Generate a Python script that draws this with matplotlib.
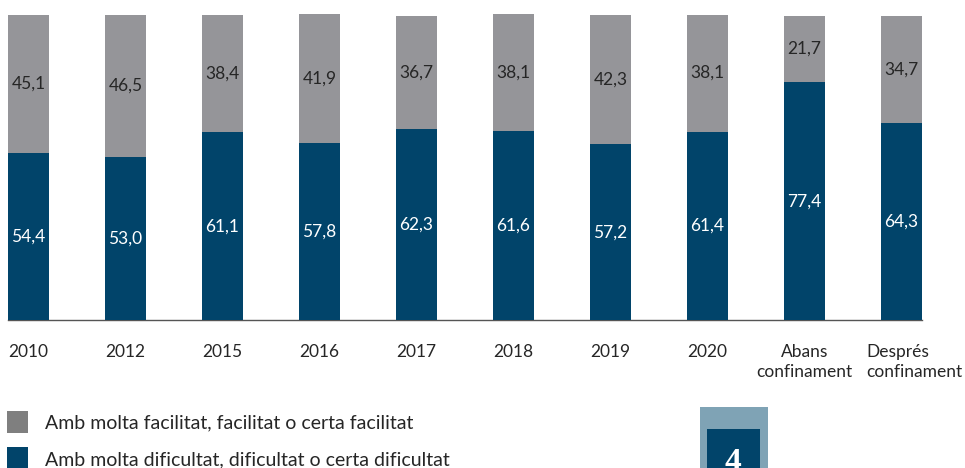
import matplotlib
matplotlib.use("Agg")
import matplotlib.pyplot as plt
from matplotlib.patches import Rectangle
from matplotlib.transforms import ScaledTranslation

categories = ["2010", "2012", "2015", "2016", "2017", "2018", "2019", "2020",
              "Abans\nconfinament", "Després\nconfinament"]
dificultat = [54.4, 53.0, 61.1, 57.8, 62.3, 61.6, 57.2, 61.4, 77.4, 64.3]
facilitat = [45.1, 46.5, 38.4, 41.9, 36.7, 38.1, 42.3, 38.1, 21.7, 34.7]
legend_labels = ["Amb molta facilitat, facilitat o certa facilitat",
                 "Amb molta dificultat, dificultat o certa dificultat"]

BLUE = "#01446a"
GRAY = "#959599"
TXT = "#262626"

plt.rcParams['font.family'] = ['Lato', 'DejaVu Sans']

W, H = 965, 468
fig = plt.figure(figsize=(W / 100, H / 100), dpi=100)

def px(x0, y0, x1, y1):
    return [x0 / W, 1 - y1 / H, (x1 - x0) / W, (y1 - y0) / H]

ax = fig.add_axes(px(8, 13, 922, 320))
x = list(range(len(categories)))
bw = 0.42
ax.bar(x, dificultat, width=bw, color=BLUE, linewidth=0)
ax.bar(x, facilitat, width=bw, bottom=dificultat, color=GRAY, linewidth=0)

def fmt(v):
    return f"{v:.1f}".replace(".", ",")

for i in x:
    ax.text(i, dificultat[i] / 2, fmt(dificultat[i]), ha="center", va="center",
            color="white", fontsize=12.5)
    ax.text(i, dificultat[i] + facilitat[i] / 2, fmt(facilitat[i]), ha="center",
            va="center", color=TXT, fontsize=12.5)

ax.set_xlim(-bw / 2, len(categories) - 1 + bw / 2)
ax.set_ylim(0, 100)
ax.set_xticks(x)
ax.set_xticklabels(categories, fontsize=12.5, color=TXT, linespacing=1.35)
ax.tick_params(axis="x", length=0, pad=17)
ax.set_yticks([])
for s in ["top", "right", "left"]:
    ax.spines[s].set_visible(False)
ax.spines["bottom"].set_color("#555555")
ax.spines["bottom"].set_linewidth(1.0)
ax.spines["bottom"].set_zorder(0)

# last label is left-aligned in the reference
last = ax.get_xticklabels()[-1]
last.set_horizontalalignment("left")
last.set_multialignment("left")
last.set_transform(last.get_transform() + ScaledTranslation(-0.355, 0, fig.dpi_scale_trans))

# legend
fig.patches.append(Rectangle((7 / W, 1 - 433 / H), 21 / W, 22 / H,
                             transform=fig.transFigure, color="#7f7f7f", linewidth=0))
fig.patches.append(Rectangle((7 / W, 1 - 469 / H), 21 / W, 22 / H,
                             transform=fig.transFigure, color=BLUE, linewidth=0))
fig.text(45 / W, 1 - 423 / H, legend_labels[0], fontsize=14, color=TXT, va="center")
fig.text(45 / W, 1 - 460 / H, legend_labels[1], fontsize=14, color=TXT, va="center")

# page-number box
fig.patches.append(Rectangle((700 / W, 0), 68 / W, (H - 407) / H,
                             transform=fig.transFigure, color="#7fa3b5", linewidth=0))
fig.patches.append(Rectangle((707 / W, 0), 53 / W, (H - 429) / H,
                             transform=fig.transFigure, color=BLUE, linewidth=0))
fig.text(733 / W, 1 - 447 / H, "4", fontsize=24, color="white", ha="center",
         va="top", family="Liberation Serif", fontweight="bold")

fig.savefig("out.png", dpi=100)
